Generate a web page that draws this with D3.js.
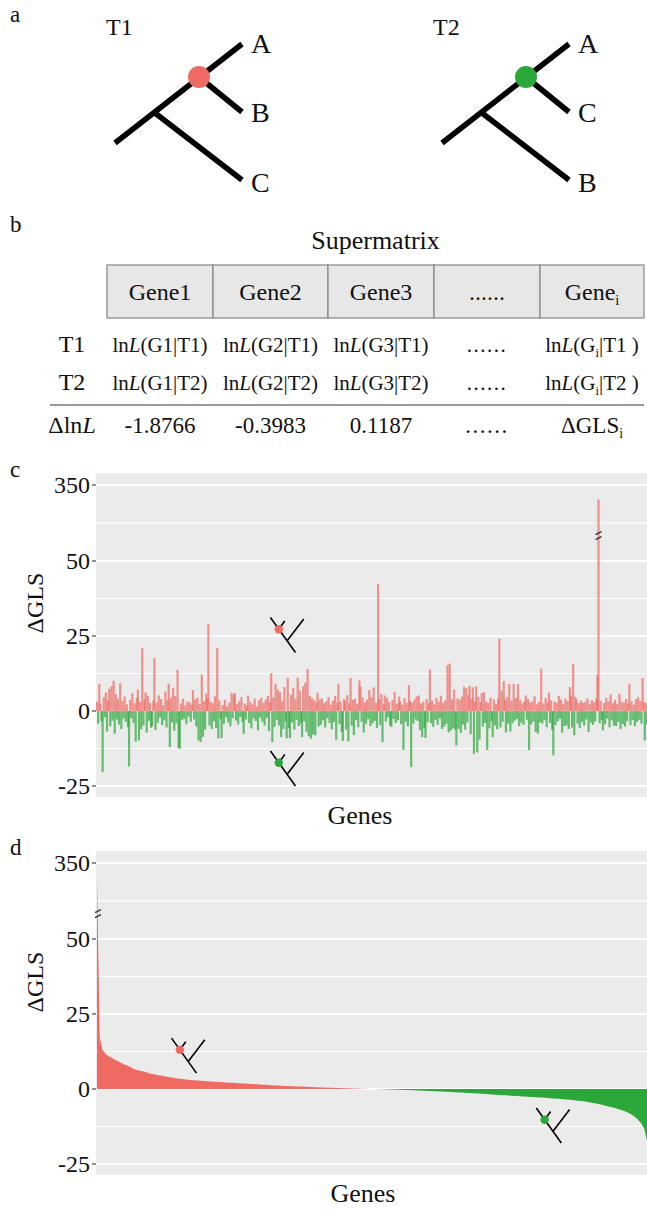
<!DOCTYPE html>
<html lang="en">

<head>
    <meta charset="UTF-8">
    <title>Gene-wise log-likelihood scores</title>
    <script src="https://d3js.org/d3.v7.min.js"></script>
    <style>
        body {
            margin: 0;
            background: #fff;
        }
        svg, svg text {
            font-family: "Liberation Serif", "DejaVu Serif", "Times New Roman", serif;
        }
        svg text {
            fill: #111;
        }
    </style>
</head>

<body>
    <div id="figure"></div>
</body>

<script>
    // ---------- data ----------
    var taxaT1 = ["A", "B", "C"];
    var taxaT2 = ["A", "C", "B"];

    var geneHeaders = ["Gene1", "Gene2", "Gene3", "......", "Gene_i"];
    var rowLabels = ["T1", "T2", "Δln{L}"];
    var rowT1 = ["ln{L}(G1|T1)", "ln{L}(G2|T1)", "ln{L}(G3|T1)", "......", "ln{L}(G_i|T1 )"];
    var rowT2 = ["ln{L}(G1|T2)", "ln{L}(G2|T2)", "ln{L}(G3|T2)", "......", "ln{L}(G_i|T2 )"];
    var rowDelta = ["-1.8766", "-0.3983", "0.1187", "......", "ΔGLS_i"];

    var yTicks = [350, 50, 25, 0, -25];

    // panel c : ΔGLS per gene, in supermatrix order
    var geneGLS = [
        3.1, -4.2, 9.0, 2.4, -3.5, -20.4, 4.6, -2.1, 6.2, -6.8, 3.5, 7.4, -5.1, 8.3, -3.2, 10.1, -7.5, 5.6, -2.8, 4.1, -4.6, 9.2, -6.0, 3.3, -2.5,
        4.8, -3.6, 2.2, -5.4, -18.5, 3.7, -2.4, 5.9, -4.0, 2.6, -10.2, 4.4, 7.1, -9.8, 3.0, -6.1, 21.0, -4.8, 3.9, 6.2, -7.2, 5.1, -3.3, 2.7, -5.6,
        -5.0, 3.4, 17.6, -6.3, 2.8, -3.9, 5.2, -2.2, 4.0, -4.7, 1.9, -3.1, 6.5, -5.5, 3.6, 9.1, -12.0, 4.3, -3.8, 7.6, -6.6, 5.0, -4.1, 13.7, -12.3,
        -12.6, 2.5, -3.0, 4.1, -2.6, 1.8, -4.4, 3.2, -1.9, 2.9, -3.6, 2.1, 7.0, -2.8, 3.8, -5.2, 4.5, -9.8, 2.4, -10.3, 12.1, -8.6, 3.3, -6.2, 5.8,
        4.2, 28.9, -4.8, 3.1, -6.0, 2.6, -3.4, 4.9, -5.7, 21.0, -9.2, 3.5, -2.7, -9.0, 2.0, -4.3, 3.7, -2.1, 1.6, -3.8, 2.8, -5.1, 6.1, -2.4, 5.5,
        6.0, -3.2, 2.3, -4.5, 3.4, -2.0, 4.7, -3.7, -7.6, 2.5, -2.9, 1.8, 5.2, -4.0, 3.0, -5.8, 2.2, -2.5, 4.1, -3.3, 1.5, -6.4, 3.6, -2.2, 4.4,
        -3.6, 2.7, -4.9, 3.8, -2.3, 5.0, -6.7, 2.9, 12.6, -10.4, 4.6, -5.3, 9.1, -3.0, 7.2, -4.8, 6.3, -8.7, 3.2, -6.0, 8.0, -3.4, -9.1, 11.0, -5.7,
        -9.0, 5.4, -3.8, 7.7, -6.2, 4.0, -2.9, 11.1, -5.0, 6.8, -4.1, -8.7, 8.2, -3.5, 9.4, -6.9, 14.0, -8.4, 5.1, -9.2, 4.3, -7.8, 3.6, -8.1, 2.9,
        6.1, -5.2, 3.9, -4.6, 4.2, -3.1, 2.6, -5.5, 3.3, -2.4, 4.7, -4.0, 2.1, -6.1, 3.5, -3.7, 5.0, -9.6, 2.8, 9.0, -4.4, 3.1, -7.0, -10.0, 4.0,
        3.4, -6.2, 5.3, -10.1, 2.6, 11.0, -4.9, 3.7, -8.0, 4.1, -3.0, 2.4, -5.4, 10.2, 8.1, -3.6, 4.5, -7.2, 2.9, -4.3, 3.8, -2.7, 7.0, -5.0, 4.6,
        -4.1, 7.9, -3.3, 2.7, -5.6, 42.3, 3.9, -4.7, 5.6, -10.4, 2.3, 5.2, -3.5, 4.4, -2.1, 3.0, -4.9, -5.3, 3.6, -2.6, 6.3, -4.0, 2.5, -3.1, 4.8,
        3.2, -4.4, 2.1, -13.0, 4.3, -3.6, 2.7, -5.1, 8.6, 3.4, -18.7, 2.9, -4.2, 3.8, -2.8, 4.9, -3.3, 5.2, -6.4, 2.5, -8.7, 3.1, -5.9, -9.0, 4.0,
        -3.7, 2.6, 13.8, -4.1, 3.5, -5.3, 2.2, -3.0, 4.4, -4.6, 3.0, -2.5, 5.1, -6.0, 2.8, -5.2, 3.6, -4.3, 15.3, -7.1, 15.8, -6.5, 3.9, -5.8, 7.2,
        -6.1, -11.5, 4.2, -5.9, 3.7, -7.3, 4.8, -4.5, 8.1, -6.2, 7.6, -3.8, 5.4, 8.4, -7.7, 4.1, 7.9, -14.3, 3.2, 8.2, -13.8, 4.7, -9.5, 3.0, 6.0,
        -5.2, 6.3, -4.0, 3.1, -13.0, 2.7, -5.8, 4.5, -3.3, -8.7, 3.9, -4.8, 2.4, -6.1, 4.2, 24.1, -5.5, 6.7, -3.6, 10.0, 3.8, -7.1, 4.6, -4.2, 9.0,
        -6.8, 3.5, -4.1, 9.0, -3.2, 4.4, -2.7, 8.9, -5.0, 3.7, -3.9, 2.6, -4.6, 3.3, 5.2, -2.9, 4.0, -13.0, 2.8, -4.4, 3.2, -3.5, 4.9, -7.0, 2.2,
        -7.5, 3.0, -3.8, 14.1, -4.2, 2.5, -3.1, 4.3, -5.4, 2.9, 6.1, -4.0, 3.6, -6.3, -14.8, 3.2, -4.7, 2.7, -3.4, 5.0, -2.6, 3.8, -7.2, 2.3, -5.0,
        4.1, -4.8, 3.3, -6.0, 8.0, 5.2, -5.5, 15.7, -8.1, 4.7, 3.9, -4.2, 2.6, -5.7, 3.5, -3.6, 2.8, -4.9, 3.1, -2.8, 4.2, -7.0, 2.4, -3.9, 3.6,
        -4.6, 2.9, -3.5, 4.2, 12.0, 293.0, -4.1, 3.4, -3.0, -6.5, 2.7, -4.4, 4.4, -2.5, 3.2, -5.4, 5.5, -3.1, 2.6, -4.8, 3.7, -5.0, 2.3, -3.6, 5.7,
        -6.0, 3.1, -4.3, 2.8, -5.2, 4.0, -3.4, 2.5, 9.0, -4.7, 3.3, -3.0, 2.1, -5.1, 3.9, -3.7, 4.6, -2.9, 3.4, -4.2, 11.0, 3.0, -9.8, 2.7, -4.5
    ];

    // panel d : the same scores ranked from T1 support to T2 support
    var sortedGLS = [
        293, 17, 13, 11.8, 11, 10.6, 10, 9.5, 9.1, 8.6,
        8.1, 7.8, 7.3, 6.8, 6.5, 6.2, 6.0, 5.8, 5.5, 5.2,
        5.0, 4.8, 4.6, 4.5, 4.3, 4.1, 4.0, 3.8, 3.7, 3.5,
        3.4, 3.3, 3.2, 3.1, 3.0, 2.9, 2.85, 2.8, 2.7,
        2.65, 2.6, 2.5, 2.45, 2.4, 2.35, 2.3, 2.2, 2.15, 2.1, 2.05, 2.0,
        1.95, 1.9, 1.85, 1.8, 1.7, 1.65, 1.6, 1.55, 1.5, 1.45, 1.4, 1.3,
        1.25, 1.2, 1.15, 1.1, 1.05, 1.0, 0.98, 0.95, 0.9, 0.86, 0.83, 0.8,
        0.75, 0.72, 0.68, 0.64, 0.6, 0.56, 0.52, 0.48, 0.45, 0.42, 0.4,
        0.37, 0.34, 0.31, 0.28, 0.25, 0.22, 0.19, 0.16, 0.13, 0.1, 0.08, 0.05, 0.03, 0.01,
        -0.01, -0.03, -0.05, -0.08, -0.1, -0.13, -0.16, -0.19, -0.22, -0.25, -0.28, -0.31, -0.34, -0.37, -0.4, -0.43, -0.46, -0.5,
        -0.55, -0.6, -0.64, -0.68, -0.72, -0.76, -0.8, -0.85, -0.9, -0.95, -1.0, -1.05, -1.1, -1.15, -1.2, -1.25, -1.3, -1.35, -1.4, -1.45, -1.5, -1.55, -1.62, -1.7,
        -1.76, -1.82, -1.88, -1.94, -2.0, -2.06, -2.12, -2.18, -2.24, -2.3, -2.36, -2.42, -2.48, -2.54, -2.6, -2.65, -2.7, -2.75, -2.8,
        -2.86, -2.93, -3.0, -3.07, -3.14, -3.21, -3.28, -3.35, -3.42, -3.5, -3.6, -3.7,
        -3.8, -3.9, -4.0, -4.1, -4.25, -4.4, -4.55, -4.7, -4.9, -5.1, -5.35, -5.6,
        -5.8, -6.0, -6.25, -6.5, -6.8, -7.1, -7.4, -7.8,
        -8.3, -8.9, -9.6, -10.5, -11.6, -13.2, -17.2
    ];

    // small tree icons inside the plots, in data units (gene index, ΔGLS of the icon root)
    var iconsC = [{ gene: 181, gls: 19.5, tree: "T1" }, { gene: 181, gls: -25, tree: "T2" }];
    var iconsD = [{ gene: 36, gls: 5.3, tree: "T1" }, { gene: 168, gls: -18, tree: "T2" }];

    // ---------- layout ----------
    const width = 647, height = 1211;
    const red = "#ee6a62", green = "#2ca73a";
    const serif = "'Liberation Serif', 'DejaVu Serif', 'Times New Roman', serif";
    const plotLeft = 96, plotRight = 647, plotH = 324;

    var svg = d3.select("#figure")
        .append("svg")
        .attr("width", width)
        .attr("height", height)
        .attr("font-family", serif)
        .style("font-family", serif);

    function panelLetter(txt, x, y) {
        svg.append("text").attr("x", x).attr("y", y)
            .style("font-size", "23px").text(txt);
    }

    // text with {italic} parts and _x subscripts
    function richText(sel, str) {
        var parts = str.split(/(\{[^}]*\}|_[a-z0-9])/).filter((s) => s.length);
        var shifted = false;
        parts.forEach(function (p) {
            var t = sel.append("tspan");
            if (shifted) { t.attr("dy", -5); shifted = false; }
            if (p[0] === "{") {
                t.style("font-style", "italic").text(p.slice(1, -1));
            } else if (p[0] === "_") {
                t.attr("dy", 5).style("font-size", "0.6em").text(p.slice(1));
                shifted = true;
            } else {
                t.text(p);
            }
        });
    }

    // ---------- panel a : the two topologies ----------
    panelLetter("a", 10, 22);

    function drawTree(rootX, rootY, name, taxa, color) {
        var g = svg.append("g").attr("transform", `translate(${rootX}, ${rootY})`);
        var node1 = [40, -30], node2 = [84, -66];
        var branches = [
            [[0, 0], [127, -99]],          // stem through to the first taxon
            [node2, [127, -31]],          // sister of the first taxon
            [node1, [127, 37]]            // outer taxon
        ];
        g.selectAll("line").data(branches).join("line")
            .attr("x1", (d) => d[0][0]).attr("y1", (d) => d[0][1])
            .attr("x2", (d) => d[1][0]).attr("y2", (d) => d[1][1])
            .style("stroke", "#000").style("stroke-width", 5.5);
        g.append("circle").attr("cx", node2[0]).attr("cy", node2[1]).attr("r", 11).style("fill", color);
        g.selectAll("text.tip").data(taxa).join("text")
            .attr("class", "tip")
            .attr("x", 136)
            .attr("y", (d, i) => [-90, -21, 49][i])
            .style("font-size", "28px")
            .text((d) => d);
        g.append("text").attr("x", -9).attr("y", -108).style("font-size", "24px").text(name);
    }
    drawTree(115, 143, "T1", taxaT1, red);
    drawTree(442, 143, "T2", taxaT2, green);

    // ---------- panel b : supermatrix table ----------
    panelLetter("b", 10, 232);
    var colEdges = [107, 213, 328, 434, 540, 644];
    var colMid = d3.pairs(colEdges).map((p) => (p[0] + p[1]) / 2);

    svg.append("text").attr("x", (colEdges[0] + colEdges[5]) / 2).attr("y", 249)
        .attr("text-anchor", "middle").style("font-size", "26px").text("Supermatrix");

    var header = svg.append("g");
    header.selectAll("rect").data(d3.pairs(colEdges)).join("rect")
        .attr("x", (d) => d[0]).attr("y", 265)
        .attr("width", (d) => d[1] - d[0]).attr("height", 53)
        .style("fill", "#e7e7e7").style("stroke", "#858585").style("stroke-width", 1.2);
    header.selectAll("text").data(geneHeaders).join("text")
        .attr("x", (d, i) => colMid[i]).attr("y", 300)
        .attr("text-anchor", "middle")
        .style("font-size", "24px")
        .each(function (d) { richText(d3.select(this), d); });

    var rows = [rowT1, rowT2, rowDelta];
    var rowY = [352, 390, 433];
    rows.forEach(function (row, r) {
        svg.append("text").attr("x", 72).attr("y", rowY[r])
            .attr("text-anchor", "middle").style("font-size", "24px")
            .each(function () { richText(d3.select(this), rowLabels[r]); });
        svg.append("g").selectAll("text").data(row).join("text")
            .attr("x", (d, i) => colMid[i]).attr("y", rowY[r])
            .attr("text-anchor", "middle")
            .style("font-size", r < 2 ? "21px" : "23px")
            .style("letter-spacing", (d) => d === "......" ? "1.5px" : null)
            .each(function (d) { richText(d3.select(this), d); });
    });
    svg.append("line").attr("x1", 50).attr("x2", 644).attr("y1", 405).attr("y2", 405)
        .style("stroke", "#777").style("stroke-width", 1.5);

    // ---------- panels c and d : ΔGLS plots ----------
    function drawIcon(g, x, y, color) {
        // small rotated tree: root at the bottom, tips pointing up
        var icon = g.append("g").attr("transform", `translate(${x}, ${y})`);
        var segs = [
            [[0, 0], [-25, -35]],
            [[-8.3, -11.7], [8.3, -33.4]],
            [[-16.7, -23.3], [-10.7, -31.4]]
        ];
        icon.selectAll("line").data(segs).join("line")
            .attr("x1", (d) => d[0][0]).attr("y1", (d) => d[0][1])
            .attr("x2", (d) => d[1][0]).attr("y2", (d) => d[1][1])
            .style("stroke", "#000").style("stroke-width", 1.6);
        icon.append("circle").attr("cx", -16.7).attr("cy", -23.3).attr("r", 4.2).style("fill", color);
    }

    function breakMark(g, x, y) {
        g.append("g").selectAll("line").data([-2.5, 2.5]).join("line")
            .attr("x1", x - 3).attr("x2", x + 3)
            .attr("y1", (d) => y + d + 1.5).attr("y2", (d) => y + d - 1.5)
            .style("stroke", "#333").style("stroke-width", 1.3);
    }

    function drawPanel(top, letter, titleY, genesX) {
        var g = svg.append("g");
        // broken axis: -25..50 linear, 50..350 squeezed into one tick step
        var y = d3.scaleLinear().domain([-25, 50, 350]).range([top + 313, top + 88, top + 12]);

        g.append("rect").attr("x", plotLeft).attr("y", top)
            .attr("width", plotRight - plotLeft).attr("height", plotH)
            .style("fill", "#ebebeb");

        var minor = d3.pairs(yTicks).map((p) => (p[0] + p[1]) / 2);
        g.selectAll("line.minor").data(minor).join("line")
            .attr("class", "minor")
            .attr("x1", plotLeft).attr("x2", plotRight)
            .attr("y1", (d) => y(d)).attr("y2", (d) => y(d))
            .style("stroke", "#fff").style("stroke-width", 1);
        g.selectAll("line.major").data(yTicks).join("line")
            .attr("class", "major")
            .attr("x1", plotLeft).attr("x2", plotRight)
            .attr("y1", (d) => y(d)).attr("y2", (d) => y(d))
            .style("stroke", "#fff").style("stroke-width", 2.2);

        // ticks + labels
        g.selectAll("line.tick").data(yTicks).join("line")
            .attr("class", "tick")
            .attr("x1", plotLeft - 4).attr("x2", plotLeft)
            .attr("y1", (d) => y(d)).attr("y2", (d) => y(d))
            .style("stroke", "#333").style("stroke-width", 1.1);
        g.selectAll("text.tickl").data(yTicks).join("text")
            .attr("class", "tickl")
            .attr("x", plotLeft - 6).attr("y", (d) => y(d))
            .attr("dy", "0.35em")
            .attr("text-anchor", "end")
            .style("font-size", "24px")
            .text((d) => d);

        g.append("text")
            .attr("transform", `translate(43, ${titleY}) rotate(-90)`)
            .attr("text-anchor", "middle")
            .style("font-size", "24px")
            .text("ΔGLS");
        g.append("text").attr("x", genesX).attr("y", top + plotH + 27)
            .attr("text-anchor", "middle").style("font-size", "26px").text("Genes");

        panelLetter(letter, 10, top + 4);
        return { g: g, y: y };
    }

    // panel c : bars in gene order
    var pc = drawPanel(473, "c", 603, 360);
    var xc = d3.scaleBand().domain(d3.range(geneGLS.length)).range([plotLeft, plotRight]);

    pc.g.append("g").selectAll("rect")
        .data(geneGLS)
        .join("rect")
        .attr("x", (d, i) => xc(i))
        .attr("width", Math.min(xc.bandwidth() * 2, plotRight - xc(0)))
        .attr("y", (d) => Math.min(pc.y(d), pc.y(0)))
        .attr("height", (d) => Math.abs(pc.y(d) - pc.y(0)))
        .style("fill", (d) => d > 0 ? red : green)
        .style("opacity", 0.7);

    var bigC = geneGLS.indexOf(d3.max(geneGLS));
    breakMark(pc.g, xc(bigC) + xc.bandwidth(), pc.y(150));
    iconsC.forEach(function (ic) {
        drawIcon(pc.g, xc(ic.gene), pc.y(ic.gls), ic.tree === "T1" ? red : green);
    });

    // panel d : ranked scores as areas
    var pd = drawPanel(851, "d", 982, 363);
    var xd = d3.scalePoint().domain(d3.range(sortedGLS.length)).range([plotLeft + 1, plotRight]);

    var areaPos = d3.area()
        .x((d, i) => xd(i))
        .y0(pd.y(0))
        .y1((d) => pd.y(Math.max(d, 0)));
    var areaNeg = d3.area()
        .x((d, i) => xd(i))
        .y0(pd.y(0))
        .y1((d) => pd.y(Math.min(d, 0)));

    pd.g.append("path").datum(sortedGLS).attr("d", areaPos).style("fill", red);
    pd.g.append("path").datum(sortedGLS).attr("d", areaNeg).style("fill", green);

    breakMark(pd.g, xd(0) + 1, pd.y(150));
    iconsD.forEach(function (ic) {
        drawIcon(pd.g, xd(ic.gene), pd.y(ic.gls), ic.tree === "T1" ? red : green);
    });
</script>

</html>
